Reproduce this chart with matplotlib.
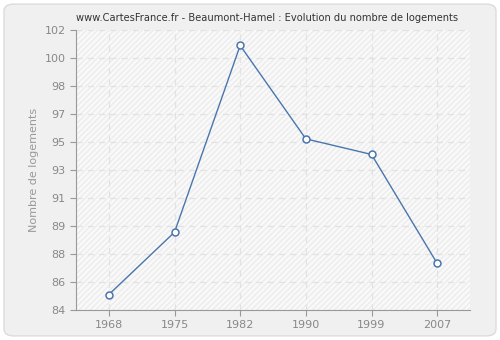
import matplotlib
matplotlib.use('Agg')
import matplotlib.pyplot as plt
from matplotlib.patches import FancyBboxPatch
import numpy as np

# data
years = ['1968', '1975', '1982', '1990', '1999', '2007']
logements = [85, 89, 101, 95, 94, 87]
ytick_vals = np.linspace(84, 102, 11)
ytick_labels = ['84', '86', '88', '89', '91', '93', '95', '97', '98', '100', '102']

fig = plt.figure(figsize=(5, 3.4), dpi=100)
fig.patch.set_facecolor('white')

# rounded grey frame behind everything
frame = FancyBboxPatch((0.008, 0.012), 0.984, 0.976, boxstyle='round,pad=0,rounding_size=0.02',
                       transform=fig.transFigure, fc='#f0f0f0', ec='#dcdcdc', lw=1, zorder=-10)
fig.patches.append(frame)

ax = fig.add_axes([0.152, 0.088, 0.788, 0.824])
ax.set_facecolor('#f9f9f9')
ax.patch.set_hatch('//////')
ax.patch.set_edgecolor('#ececec')
ax.patch.set_linewidth(0)

x = np.arange(len(years))
ax.plot(x, logements, color='#4a76ad', lw=1, marker='o', ms=5,
        mfc='white', mec='#4a76ad', mew=1.1, zorder=3)

ax.set_xlim(-0.5, 5.5)
ax.set_ylim(84, 102)
ax.set_xticks(x)
ax.set_xticklabels(years)
ax.set_yticks(ytick_vals)
ax.set_yticklabels(ytick_labels)

ax.grid(True, color='#e2e2e2', linestyle=(0, (5, 4)), lw=0.9)
ax.set_axisbelow(True)

for side in ['top', 'right']:
    ax.spines[side].set_visible(False)
for side in ['left', 'bottom']:
    ax.spines[side].set_color('#999999')

ax.tick_params(colors='#999999', labelcolor='#888888', labelsize=8, length=4)
ax.set_ylabel('Nombre de logements', color='#999999', fontsize=8)
fig.text(0.534, 0.948, 'www.CartesFrance.fr - Beaumont-Hamel : Evolution du nombre de logements',
         fontsize=7.1, color='#333333', ha='center', va='center')

fig.savefig('out.png', dpi=100, facecolor=fig.get_facecolor())
